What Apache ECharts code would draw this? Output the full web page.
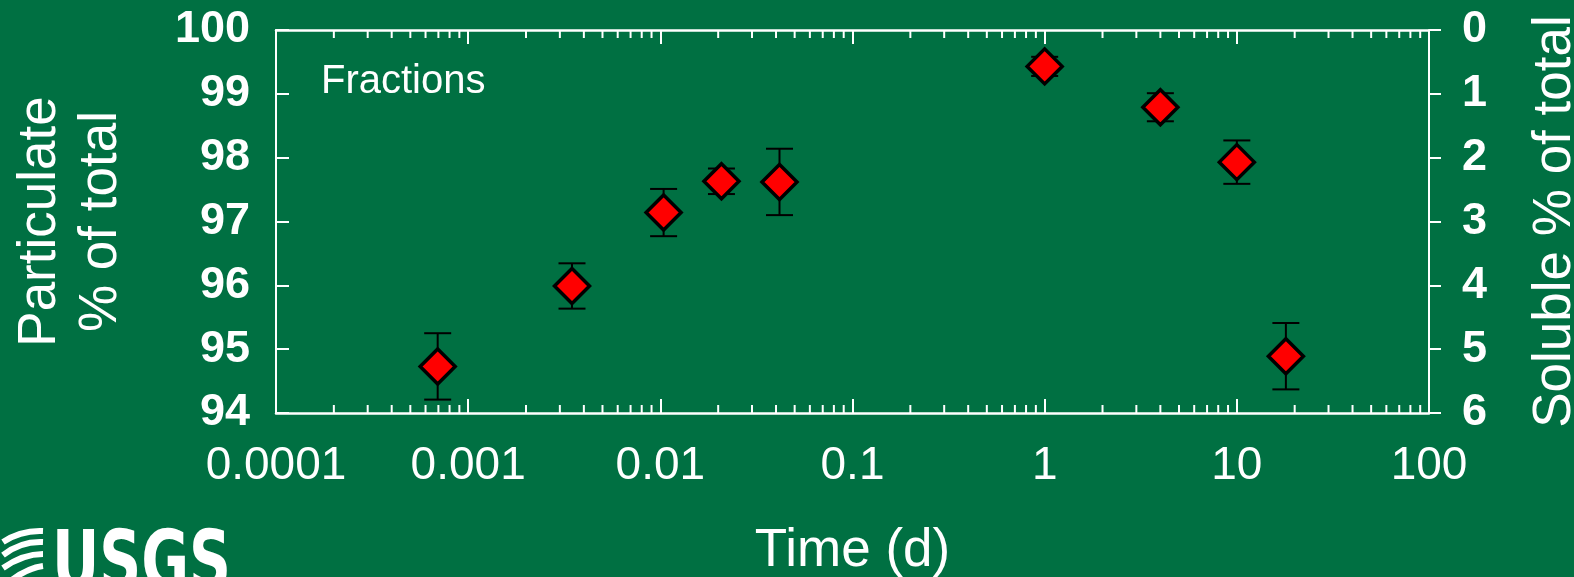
<!DOCTYPE html>
<html>
<head>
<meta charset="utf-8">
<title>Fractions</title>
<script src="https://cdn.jsdelivr.net/npm/echarts@6/dist/echarts.min.js"></script>
<style>
  html, body { margin: 0; padding: 0; background: #007042; }
  #chart { width: 1574px; height: 577px; }
</style>
</head>
<body>
<div id="chart"></div>
<script>
// sampling times (d) and particulate fraction (% of total)
const timeDays = [0.000694, 0.00347, 0.0104, 0.0208, 0.0417, 1, 4, 10, 18];
const particulate = [94.73, 95.99, 97.14, 97.63, 97.62, 99.43, 98.79, 97.93, 94.89];
const errPlusMinus = [0.52, 0.355, 0.37, 0.2, 0.52, 0.15, 0.22, 0.34, 0.52];
const xTickLabels = ['0.0001', '0.001', '0.01', '0.1', '1', '10', '100'];

const FONT = "'Liberation Sans', Arial, sans-serif";
const WHITE = '#ffffff';

// minor tick positions for the log axis (2..9 in each decade)
const decades = [0.0001, 0.001, 0.01, 0.1, 1, 10];
const minorTicks = [];
decades.forEach(d => { for (let k = 2; k <= 9; k++) minorTicks.push(d * k); });

const chart = echarts.init(document.getElementById('chart'));

const logAxisBase = {
  type: 'log',
  logBase: 10,
  min: 0.0001,
  max: 100,
  splitNumber: 6,
  splitLine: { show: false },
  axisLine: { show: true, onZero: false, lineStyle: { color: WHITE, width: 2.5 } },
  axisTick: { show: true, inside: true, length: 14, lineStyle: { color: WHITE, width: 2 } }
};

chart.setOption({
  backgroundColor: '#007042',
  animation: false,
  grid: { left: 276, right: 145, top: 30, height: 383, containLabel: false, outerBoundsMode: 'none' },
  xAxis: [
    Object.assign({}, logAxisBase, {
      position: 'bottom',
      name: 'Time (d)',
      nameLocation: 'middle',
      nameGap: 112,
      nameTextStyle: { color: WHITE, fontSize: 53, fontFamily: FONT },
      axisLabel: {
        color: WHITE, fontSize: 46, fontFamily: FONT, margin: 30,
        formatter: v => xTickLabels[Math.round(Math.log10(v)) + 4]
      }
    }),
    Object.assign({}, logAxisBase, {
      position: 'top',
      axisLabel: { show: false }
    })
  ],
  yAxis: [
    {
      type: 'value', position: 'left', min: 94, max: 100, interval: 1,
      name: 'Particulate\n% of total',
      nameLocation: 'middle', nameRotate: 90, nameGap: 144,
      nameTextStyle: { color: WHITE, fontSize: 53, fontFamily: FONT, lineHeight: 61 },
      splitLine: { show: false },
      axisLine: { show: true, lineStyle: { color: WHITE, width: 2 } },
      axisTick: { show: true, inside: true, length: 13, lineStyle: { color: WHITE, width: 2 } },
      axisLabel: { color: WHITE, fontSize: 45, fontWeight: 'bold', fontFamily: FONT, margin: 26 }
    },
    {
      type: 'value', position: 'right', min: 0, max: 6, interval: 1, inverse: true,
      name: 'Soluble % of total',
      nameLocation: 'middle', nameRotate: 90, nameGap: 100,
      nameTextStyle: { color: WHITE, fontSize: 53, fontFamily: FONT },
      splitLine: { show: false },
      axisLine: { show: true, lineStyle: { color: WHITE, width: 2 } },
      axisTick: { show: true, inside: false, length: 12, lineStyle: { color: WHITE, width: 2 } },
      axisLabel: { color: WHITE, fontSize: 45, fontWeight: 'bold', fontFamily: FONT, margin: 33 }
    }
  ],
  graphic: [
    {
      type: 'text', left: 321, top: 62,
      style: { text: 'Fractions', fill: WHITE, font: '40px ' + FONT }
    },
    {
      type: 'group', left: 0, top: 528,
      children: [
        { type: 'bezierCurve', shape: { x1: 0, y1: 14, x2: 40, y2: 3, cpx1: 18, cpy1: 2 }, style: { stroke: WHITE, lineWidth: 6, fill: null } },
        { type: 'bezierCurve', shape: { x1: 0, y1: 27, x2: 40, y2: 14, cpx1: 18, cpy1: 13 }, style: { stroke: WHITE, lineWidth: 6, fill: null } },
        { type: 'bezierCurve', shape: { x1: 0, y1: 40, x2: 40, y2: 26, cpx1: 20, cpy1: 26 }, style: { stroke: WHITE, lineWidth: 6, fill: null } },
        { type: 'bezierCurve', shape: { x1: 6, y1: 54, x2: 40, y2: 38, cpx1: 24, cpy1: 40 }, style: { stroke: WHITE, lineWidth: 6, fill: null } }
      ]
    },
    {
      type: 'text', left: 52, top: 527, scaleX: 0.79,
      style: { text: 'USGS', fill: WHITE, font: "bold 82px 'Liberation Sans Narrow', 'DejaVu Sans Condensed', sans-serif" }
    }
  ],
  series: [
    {
      // minor ticks on bottom and top axes
      type: 'custom',
      xAxisIndex: 0, yAxisIndex: 0,
      silent: true, z: 1,
      data: minorTicks.map(v => [v]),
      renderItem: (params, api) => {
        const b = api.coord([api.value(0), 94]);
        const t = api.coord([api.value(0), 100]);
        const st = { stroke: WHITE, lineWidth: 2 };
        return {
          type: 'group',
          children: [
            { type: 'line', shape: { x1: b[0], y1: b[1], x2: b[0], y2: b[1] - 8 }, style: st },
            { type: 'line', shape: { x1: t[0], y1: t[1], x2: t[0], y2: t[1] + 8 }, style: st }
          ]
        };
      }
    },
    {
      // error bars
      type: 'custom',
      xAxisIndex: 0, yAxisIndex: 0,
      silent: true, z: 2,
      data: timeDays.map((t, i) => [t, particulate[i] - errPlusMinus[i], particulate[i] + errPlusMinus[i]]),
      renderItem: (params, api) => {
        const lo = api.coord([api.value(0), api.value(1)]);
        const hi = api.coord([api.value(0), api.value(2)]);
        const w = 13.5;
        const st = { stroke: '#000', lineWidth: 2 };
        return {
          type: 'group',
          children: [
            { type: 'line', shape: { x1: lo[0], y1: lo[1], x2: hi[0], y2: hi[1] }, style: st },
            { type: 'line', shape: { x1: hi[0] - w, y1: hi[1], x2: hi[0] + w, y2: hi[1] }, style: st },
            { type: 'line', shape: { x1: lo[0] - w, y1: lo[1], x2: lo[0] + w, y2: lo[1] }, style: st }
          ]
        };
      }
    },
    {
      type: 'scatter',
      xAxisIndex: 0, yAxisIndex: 0,
      z: 3,
      symbol: 'diamond',
      symbolSize: 35,
      itemStyle: { color: '#ff0000', borderColor: '#000', borderWidth: 3.5, opacity: 1 },
      data: timeDays.map((t, i) => [t, particulate[i]])
    }
  ]
});
</script>
</body>
</html>
